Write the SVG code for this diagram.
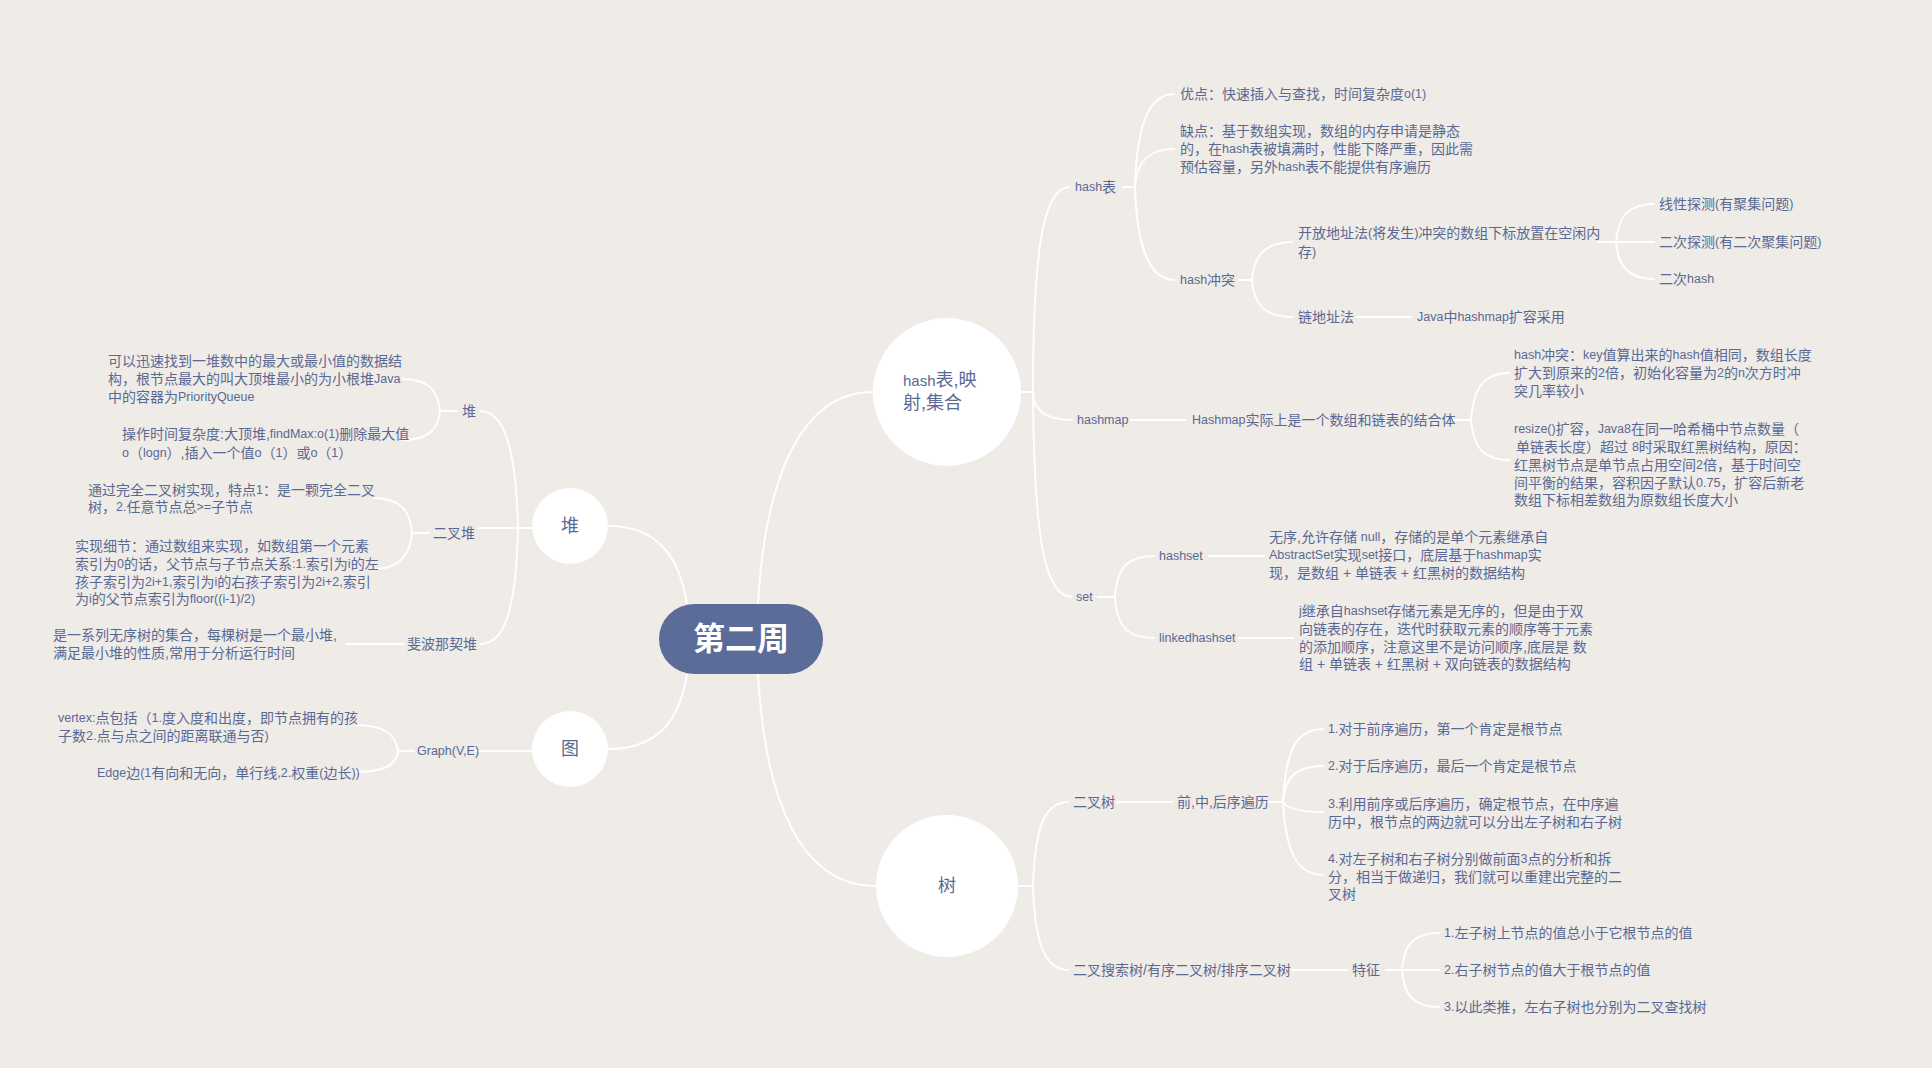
<svg xmlns="http://www.w3.org/2000/svg" width="1932" height="1068" viewBox="0 0 1932 1068">
<style>
.t{font-family:"Liberation Sans","Noto Sans CJK SC",sans-serif;font-size:14px;fill:#5a6994;dominant-baseline:central}
.l{font-size:12.5px}
.big{font-size:18px}
.c{stroke:#ffffff;stroke-width:2;fill:none}
.node{fill:#ffffff}
</style>
<rect x="0" y="0" width="1932" height="1068" fill="#efebe6"/>
<g id="connectors">
<path class="c" d="M758,604 C765,480 800,392 873,392"/>
<path class="c" d="M758,674 C765,800 800,886 876,886"/>
<path class="c" d="M687,604 C680,560 660,526 608,526"/>
<path class="c" d="M687,674 C680,718 660,749 608,749"/>
<path class="c" d="M1019,392 L1033,392"/>
<path class="c" d="M1033,392 C1033,240 1045,187 1070,187"/>
<path class="c" d="M1033,392 C1033,410 1045,420 1073,420"/>
<path class="c" d="M1033,392 C1034,540 1045,597 1072,597"/>
<path class="c" d="M1122,187 L1135,187"/>
<path class="c" d="M1135,187 C1137,120 1150,94 1175,94"/>
<path class="c" d="M1135,187 C1137,160 1150,149 1175,149"/>
<path class="c" d="M1135,187 C1137,250 1150,280 1175,280"/>
<path class="c" d="M1238,280 L1252,280"/>
<path class="c" d="M1252,280 C1254,255 1265,242 1293,242"/>
<path class="c" d="M1252,280 C1254,305 1265,317 1293,317"/>
<path class="c" d="M1356,317 L1412,317"/>
<path class="c" d="M1598,242 L1655,242"/>
<path class="c" d="M1616,242 C1618,215 1630,204 1655,204"/>
<path class="c" d="M1616,242 C1618,268 1630,279 1655,279"/>
<path class="c" d="M1130,420 L1186,420"/>
<path class="c" d="M1453,420 L1471,420"/>
<path class="c" d="M1471,420 C1474,385 1485,373 1510,373"/>
<path class="c" d="M1471,420 C1474,450 1485,460 1510,460"/>
<path class="c" d="M1097,597 L1115,597"/>
<path class="c" d="M1115,597 C1117,565 1130,556 1155,556"/>
<path class="c" d="M1115,597 C1117,630 1130,638 1155,638"/>
<path class="c" d="M1208,556 L1265,556"/>
<path class="c" d="M1238,638 L1294,638"/>
<path class="c" d="M1018,886 L1033,886"/>
<path class="c" d="M1033,886 C1035,825 1045,802 1069,802"/>
<path class="c" d="M1033,886 C1035,945 1045,970 1069,970"/>
<path class="c" d="M1116,802 L1173,802"/>
<path class="c" d="M1264,802 L1283,802"/>
<path class="c" d="M1283,802 C1286,745 1298,729 1324,729"/>
<path class="c" d="M1283,802 C1285,775 1298,766 1324,766"/>
<path class="c" d="M1283,802 C1287,808 1298,812 1324,812"/>
<path class="c" d="M1283,802 C1286,855 1298,875 1324,875"/>
<path class="c" d="M1291,970 L1348,970"/>
<path class="c" d="M1385,970 L1440,970"/>
<path class="c" d="M1402,970 C1404,942 1416,933 1440,933"/>
<path class="c" d="M1402,970 C1404,998 1416,1007 1440,1007"/>
<path class="c" d="M532,528 L478,528"/>
<path class="c" d="M518,528 C516,450 505,411 480,411"/>
<path class="c" d="M518,528 C516,610 505,644 480,644"/>
<path class="c" d="M458,411 L440,411"/>
<path class="c" d="M440,411 C438,390 428,379 402,379"/>
<path class="c" d="M440,411 C438,430 428,440 402,440"/>
<path class="c" d="M430,533 L412,533"/>
<path class="c" d="M412,533 C410,510 400,498 373,498"/>
<path class="c" d="M412,533 C410,555 400,569 373,569"/>
<path class="c" d="M404,644 L345,644"/>
<path class="c" d="M532,751 L475,751"/>
<path class="c" d="M415,751 L398,751"/>
<path class="c" d="M398,751 C396,735 385,725 355,725"/>
<path class="c" d="M398,751 C396,765 385,772 355,772"/>
</g>
<g id="root">
<rect x="659" y="604" width="164" height="70" rx="35" fill="#5b6c98"/>
<text x="741" y="639" text-anchor="middle" style="font-family:'Liberation Sans','Noto Sans CJK SC',sans-serif;font-size:32px;font-weight:bold;fill:#ffffff;dominant-baseline:central">第二周</text>
</g>
<g id="n-hash">
<circle class="node" cx="947" cy="392" r="74"/>
<text class="t big"><tspan x="903" y="380"><tspan style="font-size:15px">hash</tspan>表,映</tspan><tspan x="903" y="403">射,集合</tspan></text>
</g>
<g id="n-tree">
<circle class="node" cx="947" cy="886" r="71"/>
<text class="t big" x="947" y="886" text-anchor="middle">树</text>
</g>
<g id="n-heap">
<circle class="node" cx="570" cy="526" r="38"/>
<text class="t big" x="570" y="526" text-anchor="middle">堆</text>
</g>
<g id="n-graph">
<circle class="node" cx="570" cy="749" r="38"/>
<text class="t big" x="570" y="749" text-anchor="middle">图</text>
</g>
<g id="n-hashtable"><text class="t" x="1075" y="187"><tspan class="l">hash</tspan>表</text></g>
<g id="n-pro"><text class="t" x="1180" y="94">优点：快速插入与查找，时间复杂度<tspan class="l">o(1)</tspan></text></g>
<g id="n-con"><text class="t"><tspan x="1180" y="131">缺点：基于数组实现，数组的内存申请是静态</tspan><tspan x="1180" y="149">的，在<tspan class="l">hash</tspan>表被填满时，性能下降严重，因此需</tspan><tspan x="1180" y="167">预估容量，另外<tspan class="l">hash</tspan>表不能提供有序遍历</tspan></text></g>
<g id="n-collision"><text class="t" x="1180" y="280"><tspan class="l">hash</tspan>冲突</text></g>
<g id="n-open"><text class="t"><tspan x="1298" y="233">开放地址法<tspan class="l">(</tspan>将发生<tspan class="l">)</tspan>冲突的数组下标放置在空闲内</tspan><tspan x="1298" y="252">存<tspan class="l">)</tspan></tspan></text></g>
<g id="n-chain"><text class="t" x="1298" y="317">链地址法</text></g>
<g id="n-java"><text class="t" x="1417" y="317"><tspan class="l">Java</tspan>中<tspan class="l">hashmap</tspan>扩容采用</text></g>
<g id="n-linear"><text class="t" x="1659" y="204">线性探测<tspan class="l">(</tspan>有聚集问题<tspan class="l">)</tspan></text></g>
<g id="n-quad"><text class="t" x="1659" y="242">二次探测<tspan class="l">(</tspan>有二次聚集问题<tspan class="l">)</tspan></text></g>
<g id="n-rehash"><text class="t" x="1659" y="279">二次<tspan class="l">hash</tspan></text></g>
<g id="n-hashmap"><text class="t" x="1077" y="420"><tspan class="l">hashmap</tspan></text></g>
<g id="n-hashmap-desc"><text class="t" x="1192" y="420"><tspan class="l">Hashmap</tspan>实际上是一个数组和链表的结合体</text></g>
<g id="n-hm-collision"><text class="t"><tspan x="1514" y="355"><tspan class="l">hash</tspan>冲突：<tspan class="l">key</tspan>值算出来的<tspan class="l">hash</tspan>值相同，数组长度</tspan><tspan x="1514" y="373">扩大到原来的<tspan class="l">2</tspan>倍，初始化容量为<tspan class="l">2</tspan>的<tspan class="l">n</tspan>次方时冲</tspan><tspan x="1514" y="391">突几率较小</tspan></text></g>
<g id="n-resize"><text class="t"><tspan x="1514" y="429"><tspan class="l">resize()</tspan>扩容，<tspan class="l">Java8</tspan>在同一哈希桶中节点数量（</tspan><tspan x="1516" y="447">单链表长度）超过 <tspan class="l">8</tspan>时采取红黑树结构，原因：</tspan><tspan x="1514" y="465">红黑树节点是单节点占用空间<tspan class="l">2</tspan>倍，基于时间空</tspan><tspan x="1514" y="483">间平衡的结果，容积因子默认<tspan class="l">0.75</tspan>，扩容后新老</tspan><tspan x="1514" y="500">数组下标相差数组为原数组长度大小</tspan></text></g>
<g id="n-set"><text class="t" x="1076" y="597"><tspan class="l">set</tspan></text></g>
<g id="n-hashset"><text class="t" x="1159" y="556"><tspan class="l">hashset</tspan></text></g>
<g id="n-hashset-desc"><text class="t"><tspan x="1269" y="537">无序,允许存储 <tspan class="l">null</tspan>，存储的是单个元素继承自</tspan><tspan x="1269" y="555"><tspan class="l">AbstractSet</tspan>实现<tspan class="l">set</tspan>接口，底层基于<tspan class="l">hashmap</tspan>实</tspan><tspan x="1269" y="573">现，是数组 + 单链表 + 红黑树的数据结构</tspan></text></g>
<g id="n-linkedhashset"><text class="t" x="1159" y="638"><tspan class="l">linkedhashset</tspan></text></g>
<g id="n-linkedhashset-desc"><text class="t"><tspan x="1299" y="611"><tspan class="l">j</tspan>继承自<tspan class="l">hashset</tspan>存储元素是无序的，但是由于双</tspan><tspan x="1299" y="629">向链表的存在，迭代时获取元素的顺序等于元素</tspan><tspan x="1299" y="647">的添加顺序，注意这里不是访问顺序,底层是 数</tspan><tspan x="1299" y="664">组 + 单链表 + 红黑树 + 双向链表的数据结构</tspan></text></g>
<g id="n-bintree"><text class="t" x="1073" y="802">二叉树</text></g>
<g id="n-traversal"><text class="t" x="1177" y="802">前,中,后序遍历</text></g>
<g id="n-tr1"><text class="t" x="1328" y="729"><tspan class="l">1.</tspan>对于前序遍历，第一个肯定是根节点</text></g>
<g id="n-tr2"><text class="t" x="1328" y="766"><tspan class="l">2.</tspan>对于后序遍历，最后一个肯定是根节点</text></g>
<g id="n-tr3"><text class="t"><tspan x="1328" y="804"><tspan class="l">3.</tspan>利用前序或后序遍历，确定根节点，在中序遍</tspan><tspan x="1328" y="822">历中，根节点的两边就可以分出左子树和右子树</tspan></text></g>
<g id="n-tr4"><text class="t"><tspan x="1328" y="859"><tspan class="l">4.</tspan>对左子树和右子树分别做前面<tspan class="l">3</tspan>点的分析和拆</tspan><tspan x="1328" y="877">分，相当于做递归，我们就可以重建出完整的二</tspan><tspan x="1328" y="894">叉树</tspan></text></g>
<g id="n-bst"><text class="t" x="1073" y="970">二叉搜索树/有序二叉树/排序二叉树</text></g>
<g id="n-feature"><text class="t" x="1352" y="970">特征</text></g>
<g id="n-f1"><text class="t" x="1444" y="933"><tspan class="l">1.</tspan>左子树上节点的值总小于它根节点的值</text></g>
<g id="n-f2"><text class="t" x="1444" y="970"><tspan class="l">2.</tspan>右子树节点的值大于根节点的值</text></g>
<g id="n-f3"><text class="t" x="1444" y="1007"><tspan class="l">3.</tspan>以此类推，左右子树也分别为二叉查找树</text></g>
<g id="n-heap-label"><text class="t" x="462" y="411">堆</text></g>
<g id="n-heap-desc"><text class="t"><tspan x="108" y="361">可以迅速找到一堆数中的最大或最小值的数据结</tspan><tspan x="108" y="379">构，根节点最大的叫大顶堆最小的为小根堆<tspan class="l">Java</tspan></tspan><tspan x="108" y="397">中的容器为<tspan class="l">PriorityQueue</tspan></tspan></text></g>
<g id="n-heap-ops"><text class="t"><tspan x="122" y="434">操作时间复杂度:大顶堆,<tspan class="l">findMax:o(1)</tspan>删除最大值</tspan><tspan x="122" y="453"><tspan class="l">o</tspan>（<tspan class="l">logn</tspan>）,插入一个值<tspan class="l">o</tspan>（<tspan class="l">1</tspan>）或<tspan class="l">o</tspan>（<tspan class="l">1</tspan>）</tspan></text></g>
<g id="n-binheap"><text class="t" x="433" y="533">二叉堆</text></g>
<g id="n-binheap-1"><text class="t"><tspan x="88" y="490">通过完全二叉树实现，特点<tspan class="l">1</tspan>：是一颗完全二叉</tspan><tspan x="88" y="507">树，<tspan class="l">2.</tspan>任意节点总<tspan class="l">&gt;=</tspan>子节点</tspan></text></g>
<g id="n-binheap-2"><text class="t"><tspan x="75" y="546">实现细节：通过数组来实现，如数组第一个元素</tspan><tspan x="75" y="564">索引为<tspan class="l">0</tspan>的话，父节点与子节点关系<tspan class="l">:1.</tspan>索引为<tspan class="l">i</tspan>的左</tspan><tspan x="75" y="582">孩子索引为<tspan class="l">2i+1,</tspan>索引为<tspan class="l">i</tspan>的右孩子索引为<tspan class="l">2i+2,</tspan>索引</tspan><tspan x="75" y="599">为<tspan class="l">i</tspan>的父节点索引为<tspan class="l">floor((i-1)/2)</tspan></tspan></text></g>
<g id="n-fib"><text class="t" x="407" y="644">斐波那契堆</text></g>
<g id="n-fib-desc"><text class="t"><tspan x="53" y="635">是一系列无序树的集合，每棵树是一个最小堆,</tspan><tspan x="53" y="653">满足最小堆的性质,常用于分析运行时间</tspan></text></g>
<g id="n-graphve"><text class="t" x="417" y="751"><tspan class="l">Graph(V,E)</tspan></text></g>
<g id="n-vertex"><text class="t"><tspan x="58" y="718"><tspan class="l">vertex:</tspan>点包括（<tspan class="l">1.</tspan>度入度和出度，即节点拥有的孩</tspan><tspan x="58" y="736">子数<tspan class="l">2.</tspan>点与点之间的距离联通与否<tspan class="l">)</tspan></tspan></text></g>
<g id="n-edge"><text class="t" x="97" y="773"><tspan class="l">Edge</tspan>边<tspan class="l">(1</tspan>有向和无向，单行线<tspan class="l">,2.</tspan>权重<tspan class="l">(</tspan>边长<tspan class="l">))</tspan></text></g>
</svg>
